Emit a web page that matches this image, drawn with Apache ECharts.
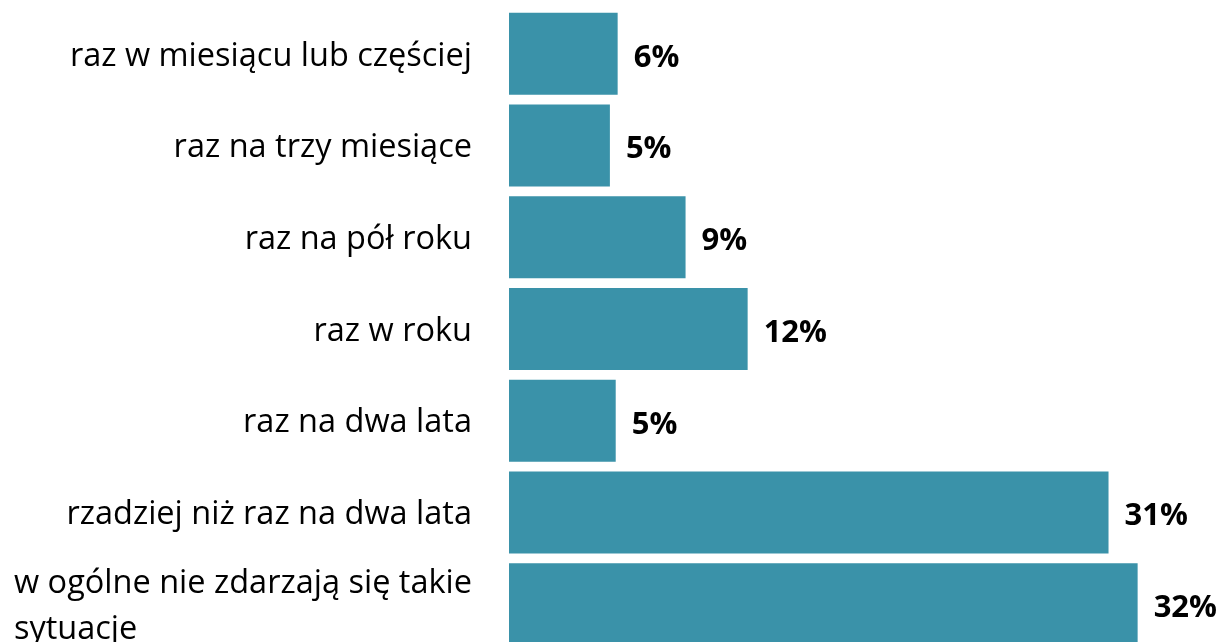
<!DOCTYPE html>
<html>
<head>
<meta charset="utf-8">
<script src="https://cdn.jsdelivr.net/npm/echarts@6/dist/echarts.min.js"></script>
<style>
  html, body { margin: 0; padding: 0; background: #fff; }
  #main { width: 1223px; height: 642px; }
</style>
</head>
<body>
<div id="main"></div>
<script>
// categories, top to bottom
var categories = [
  'raz w miesiącu lub częściej',
  'raz na trzy miesiące',
  'raz na pół roku',
  'raz w roku',
  'raz na dwa lata',
  'rzadziej niż raz na dwa lata',
  'w ogólne nie zdarzają się takie\nsytuacje'
];
// bar lengths (percent)
var values = [5.6, 5.2, 9.1, 12.3, 5.5, 30.9, 32.4];
// labels as printed on the chart
var valueLabels = ['6%', '5%', '9%', '12%', '5%', '31%', '32%'];

var font = '"Open Sans", sans-serif';

var myChart = echarts.init(document.getElementById('main'));
var option = {
  animation: false,
  grid: { left: 509, width: 714, top: 8, height: 642, outerBoundsMode: 'none' },
  xAxis: {
    type: 'value',
    min: 0,
    max: 36.8,
    show: false
  },
  yAxis: {
    type: 'category',
    inverse: true,
    data: categories,
    axisLine: { show: false },
    axisTick: { show: false },
    axisLabel: {
      margin: 37,
      color: '#000',
      fontFamily: font,
      fontSize: 32.5,
      lineHeight: 46,
      padding: [5, 0, 0, 0],
      formatter: function(val) {
        if (val.indexOf('\n') < 0) return val;
        return val.split('\n').map(function(s) { return '{l|' + s + '}'; }).join('\n');
      },
      rich: {
        l: { align: 'left', color: '#000', fontFamily: font, fontSize: 32.5, lineHeight: 46 }
      }
    }
  },
  series: [{
    type: 'bar',
    data: values,
    barWidth: 82,
    itemStyle: { color: '#3a92a9' },
    label: {
      show: true,
      position: 'right',
      distance: 16,
      offset: [0, 4],
      color: '#000',
      fontFamily: font,
      fontWeight: 'bold',
      fontSize: 31,
      formatter: function(p) { return valueLabels[p.dataIndex]; }
    }
  }]
};
myChart.setOption(option);
</script>
</body>
</html>
